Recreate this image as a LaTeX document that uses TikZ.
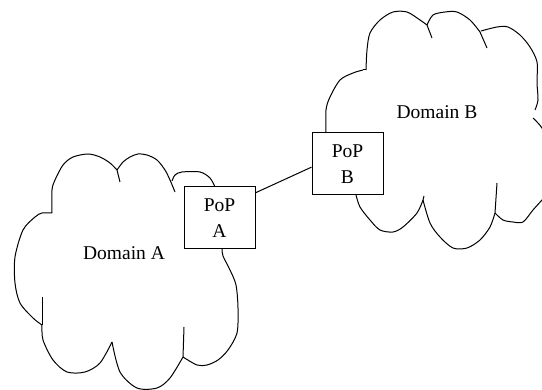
\documentclass[tikz,border=0pt]{standalone}
\usepackage{fontspec}
\setmainfont{Liberation Serif}
\begin{document}
\begin{tikzpicture}[x=1pt,y=-1pt,
  cloudline/.style={line width=1pt, black},
  popbox/.style={draw, line width=1pt, fill=white, minimum width=71pt, minimum height=62pt, inner sep=0pt, align=center, font=\fontsize{19.5}{26}\selectfont},
  label/.style={font=\fontsize{19.5}{24}\selectfont}]
\clip (0,0) rectangle (542,390);
% Cloud A
\draw[cloudline] plot[smooth] coordinates {(52,213) (42,213) (35,217) (23,230) (15,257) (15,283) (20,303) (33,318) (42,325)};
\draw[cloudline] (42,297) -- (42,325);
\draw[cloudline] plot[smooth] coordinates {(42,325) (43,340) (53,360) (67,372) (85,372) (100,363) (112,342)};
\draw[cloudline] plot[smooth] coordinates {(112,342) (120,372) (137,388) (157,388) (170,378) (183,357)};
\draw[cloudline] (184,327) -- (183,357);
\draw[cloudline] plot[smooth] coordinates {(183,357) (197,365) (207,365) (218,360) (228,350) (237,333) (238,308) (236,285) (230,270) (223,256) (222,249)};
\draw[cloudline] plot[smooth] coordinates {(52,213) (52,190) (55,180) (63,165) (73,157) (88,154) (100,157) (110,163) (117,170)};
\draw[cloudline] (117,170) -- (120,182);
\draw[cloudline] plot[smooth] coordinates {(117,170) (123,162) (130,157) (138,154) (147,155) (157,160) (165,170) (170,180) (175,192)};
\draw[cloudline] plot[smooth] coordinates {(172,181) (175,175) (182,172) (200,172) (210,178) (215,187)};
% Cloud B
\draw[cloudline] plot[smooth] coordinates {(326,133) (326,110) (330,97) (340,80) (353,73) (363,70)};
\draw[cloudline] (363,70) -- (366,70);
\draw[cloudline] plot[smooth] coordinates {(366,70) (367,50) (370,33) (380,20) (393,12) (407,12) (420,20) (427,25)};
\draw[cloudline] (427,25) -- (432,38);
\draw[cloudline] plot[smooth] coordinates {(427,25) (433,15) (445,12) (457,12) (470,20) (480,32)};
\draw[cloudline] (480,32) -- (487,48);
\draw[cloudline] plot[smooth] coordinates {(481,31) (497,27) (508,27) (520,35) (530,47) (537,62) (537,83) (538,100) (535,110)};
\draw[cloudline] plot[smooth] coordinates {(533,118) (542,128) (549,145) (552,170) (549,190) (542,200)};
\draw[cloudline] plot[smooth] coordinates {(542,200) (533,210) (523,222) (513,222) (503,220) (495,213)};
\draw[cloudline] (495,213) -- (497,183);
\draw[cloudline] plot[smooth] coordinates {(495,213) (490,227) (480,240) (467,248) (453,248) (440,237) (430,223) (423,200)};
\draw[cloudline] (423,200) -- (424,196);
\draw[cloudline] plot[smooth] coordinates {(423,200) (417,213) (403,227) (393,232) (380,230) (370,220) (360,207) (356,195)};
% Boxes
\node[popbox] (pa) at (219.5,218) {PoP\\A};
\node[popbox] (pb) at (347.5,164) {PoP\\B};
\draw[line width=1pt] (pa.35) -- (pb.185);
% Labels
\node[label] (da) at (124,253) {Domain A};
\node[label] (db) at (437,112) {Domain B};
\end{tikzpicture}
\end{document}
